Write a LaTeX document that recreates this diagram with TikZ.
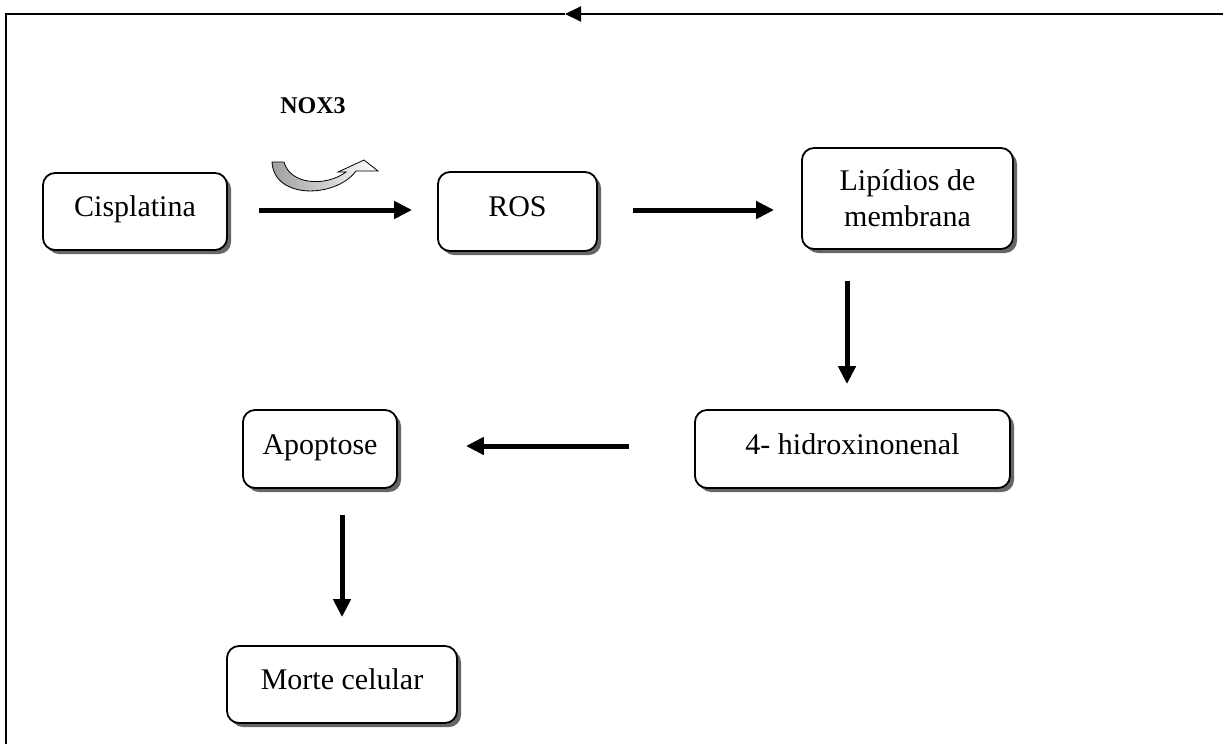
\documentclass[tikz,border=0pt]{standalone}
\usepackage{fontspec}
\setmainfont{Liberation Serif}
\usetikzlibrary{arrows.meta,shadows,calc}
\begin{document}
\begin{tikzpicture}[x=1pt,y=-1pt,
  box/.style={draw,line width=1.8pt,rounded corners=12pt,fill=white,
    drop shadow={shadow xshift=4pt,shadow yshift=-4pt,fill=black!60,opacity=1},
    font=\fontsize{30}{36}\selectfont,inner sep=0pt},
  oneline/.style={text height=24pt,text depth=14pt},
  arr/.style={line width=5pt,-{Triangle[length=18pt,width=17pt]}},
  frame/.style={line width=2pt},
]
\useasboundingbox (0,0) rectangle (1223,744);

% outer frame
\coordinate (fr) at (1223,14);
\coordinate (fm) at (565,14);
\coordinate (fl) at (6,14);
\coordinate (fb) at (6,744);
\draw[frame,-{Triangle[length=16pt,width=15pt]}] (fr) -- (fm);
\draw[frame] (fm) -- (fl) -- (fb);

% boxes
\node[box,oneline,minimum width=184pt,minimum height=77pt] (cis) at (135,211.5) {Cisplatina};
\node[box,oneline,minimum width=159pt,minimum height=79pt] (ros) at (517.5,211.5) {ROS};
\node[box,align=center,minimum width=211pt,minimum height=101pt] (lip) at (907.5,198.5) {Lipídios de\\membrana};
\node[box,oneline,minimum width=315pt,minimum height=78pt] (hne) at (852.5,449) {4- hidroxinonenal};
\node[box,oneline,minimum width=154pt,minimum height=78pt] (apo) at (320,449) {Apoptose};
\node[box,oneline,minimum width=230pt,minimum height=77pt] (mor) at (342,684.5) {Morte celular};

% NOX3 label and curved arrow
\node[font=\bfseries\fontsize{24}{28}\selectfont,inner sep=0pt] (nox) at (313,105.5) {NOX3};
\shade[left color=gray!75,right color=white,draw=black,line width=0.8pt]
  (272,162) .. controls (274,200) and (336,198) .. (356,171)
  -- (378,171) -- (364,160) -- (338,172) -- (346,172)
  .. controls (326,187) and (290,185) .. (284,162) -- cycle;

% connectors
\draw[arr,shorten <=31pt,shorten >=25pt] ([yshift=1.5pt]cis.east) -- ([yshift=1.5pt]ros.west);
\draw[arr,shorten <=35pt,shorten >=27pt] ([yshift=1.5pt]ros.east) -- ([yshift=1.5pt]ros.east -| lip.west);
\draw[arr,shorten <=31pt,shorten >=25pt] ([xshift=-60.5pt]lip.south) -- ([xshift=-60.5pt]lip.south |- hne.north);
\draw[arr,shorten <=65pt,shorten >=68pt] ([yshift=3pt]hne.west) -- ([yshift=3pt]apo.east);
\draw[arr,shorten <=26pt,shorten >=28pt] (mor.north |- apo.south) -- (mor.north);
\end{tikzpicture}
\end{document}
